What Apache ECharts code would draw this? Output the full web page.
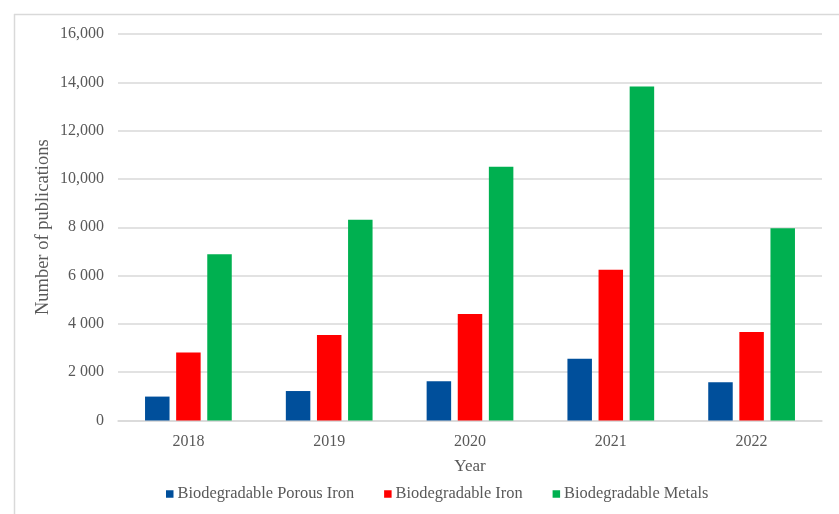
<!DOCTYPE html>
<html>
<head>
<meta charset="utf-8">
<script src="https://cdn.jsdelivr.net/npm/echarts@6/dist/echarts.min.js"></script>
<style>
html,body{margin:0;padding:0;background:#fff;}
#chart{width:839px;height:514px;}
</style>
</head>
<body>
<div id="chart"></div>
<script>
var years = ['2018', '2019', '2020', '2021', '2022'];
var porousIron = [990, 1220, 1620, 2560, 1580];
var iron = [2820, 3540, 4410, 6240, 3660];
var metals = [6880, 8310, 10500, 13830, 7960];
var seriesNames = ['Biodegradable Porous Iron', 'Biodegradable Iron', 'Biodegradable Metals'];
var yTickValues = [0, 2000, 4000, 6000, 8000, 10000, 12000, 14000, 16000];
var yTickLabels = ['0', '2 000', '4 000', '6 000', '8 000', '10,000', '12,000', '14,000', '16,000'];

var font = '"Liberation Serif", "Times New Roman", serif';
var textColor = '#595959';
var gridColor = '#d9d9d9';

var chart = echarts.init(document.getElementById('chart'), null, {renderer: 'canvas'});

function barSeries(name, data, color) {
  return {
    name: name,
    type: 'bar',
    data: data,
    barWidth: 24.5,
    barGap: '27%',
    itemStyle: {color: color},
    emphasis: {disabled: true}
  };
}

chart.setOption({
  animation: false,
  backgroundColor: '#ffffff',
  graphic: [
    {type: 'line', shape: {x1: 14, y1: 14.5, x2: 839, y2: 14.5}, style: {stroke: gridColor, lineWidth: 1.5}, silent: true},
    {type: 'line', shape: {x1: 14.5, y1: 14, x2: 14.5, y2: 514}, style: {stroke: gridColor, lineWidth: 1.5}, silent: true}
  ],
  grid: {left: 118, right: 17, top: 34, bottom: 93.5, containLabel: false},
  legend: {
    data: seriesNames,
    top: 481,
    left: 161,
    icon: 'rect',
    itemWidth: 7.5,
    itemHeight: 7.5,
    itemGap: 30,
    textStyle: {fontFamily: font, fontSize: 16.4, color: textColor, padding: [0, 0, 0, -1]}
  },
  xAxis: {
    type: 'category',
    data: years,
    name: 'Year',
    nameLocation: 'middle',
    nameGap: 38,
    nameMoveOverlap: false,
    nameTextStyle: {fontFamily: font, fontSize: 17, color: textColor},
    axisLine: {lineStyle: {color: gridColor, width: 1.5}},
    axisTick: {show: false},
    axisLabel: {fontFamily: font, fontSize: 16, color: textColor, margin: 13.5}
  },
  yAxis: {
    type: 'value',
    min: 0,
    max: 16000,
    interval: 2000,
    name: 'Number of publications',
    nameLocation: 'middle',
    nameGap: 65,
    nameMoveOverlap: false,
    nameTextStyle: {fontFamily: font, fontSize: 18.5, color: textColor},
    axisLine: {show: false},
    axisTick: {show: false},
    splitLine: {lineStyle: {color: gridColor, width: 1.5}},
    axisLabel: {
      fontFamily: font, fontSize: 16, color: textColor, margin: 14,
      formatter: function (v) {
        var i = yTickValues.indexOf(v);
        return i >= 0 ? yTickLabels[i] : String(v);
      }
    }
  },
  series: [
    barSeries(seriesNames[0], porousIron, '#004f9b'),
    barSeries(seriesNames[1], iron, '#ff0000'),
    barSeries(seriesNames[2], metals, '#00b050')
  ]
});
</script>
</body>
</html>
